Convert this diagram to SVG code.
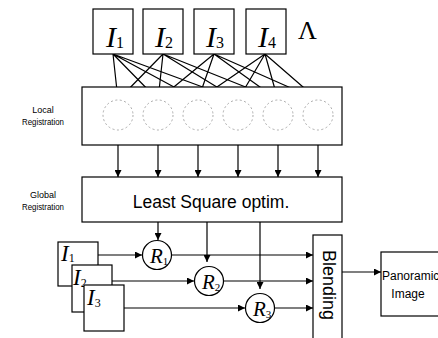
<svg xmlns="http://www.w3.org/2000/svg" width="438" height="338" viewBox="0 0 438 338">
<defs>
<marker id="ah" viewBox="0 0 10 10" refX="10" refY="5" markerWidth="7" markerHeight="7" orient="auto" markerUnits="userSpaceOnUse">
<path d="M0,0 L10,5 L0,10 z" fill="#000"/>
</marker>
<style>
.box{fill:#fff;stroke:#000;stroke-width:1.2}
.pc{fill:none;stroke:#aaa;stroke-width:1;stroke-dasharray:2 2.5}
.rc{fill:#fff;stroke:#000;stroke-width:1.2}
.ln{stroke:#000;stroke-width:1.2;fill:none}
.ar{stroke:#000;stroke-width:1.2;fill:none;marker-end:url(#ah)}
.it{font-family:"Liberation Serif",serif;font-style:italic;fill:#000}
.sub{font-family:"Liberation Serif",serif;font-style:normal;fill:#000}
.lbl{font-family:"Liberation Sans",Arial,sans-serif;font-size:9px;fill:#000;text-anchor:middle}
.sans{font-family:"Liberation Sans",Arial,sans-serif;fill:#000}
</style>
</defs>
<rect width="438" height="338" fill="#fff"/>

<g id="connectors">
<path class="ln" d="M113,54 L118,100 M113,54 L158,100 M113,54 L198,100 M113,54 L238,100"/>
<path class="ln" d="M163,54 L118,100 M163,54 L158,100 M163,54 L238,100 M163,54 L278,100"/>
<path class="ln" d="M214,54 L158,100 M214,54 L198,100 M214,54 L278,100 M214,54 L318,100"/>
<path class="ln" d="M265,54 L198,100 M265,54 L238,100 M265,54 L278,100 M265,54 L318,100"/>
<line class="ar" x1="118" y1="131" x2="118" y2="177"/>
<line class="ar" x1="158" y1="131" x2="158" y2="177"/>
<line class="ar" x1="198" y1="131" x2="198" y2="177"/>
<line class="ar" x1="238" y1="131" x2="238" y2="177"/>
<line class="ar" x1="278" y1="131" x2="278" y2="177"/>
<line class="ar" x1="318" y1="131" x2="318" y2="177"/>
<line class="ar" x1="158" y1="222" x2="158" y2="240"/>
<line class="ar" x1="207" y1="222" x2="207" y2="262"/>
<line class="ar" x1="260" y1="222" x2="260" y2="289"/>
<line class="ar" x1="98" y1="255" x2="142" y2="255"/>
<line class="ar" x1="112" y1="281" x2="194" y2="281"/>
<line class="ar" x1="124" y1="308" x2="245" y2="308"/>
<line class="ar" x1="172" y1="255" x2="313" y2="255"/>
<line class="ar" x1="224" y1="281" x2="313" y2="281"/>
<line class="ar" x1="275" y1="308" x2="313" y2="308"/>
<line class="ar" x1="342" y1="272" x2="381" y2="272"/>
</g>

<g id="img1"><rect class="box" x="93" y="9" width="40" height="45"/><text class="it" x="106" y="47" font-size="30">I<tspan class="sub" font-size="16" dy="1">1</tspan></text></g>
<g id="img2"><rect class="box" x="143" y="9" width="40" height="45"/><text class="it" x="155" y="47" font-size="30">I<tspan class="sub" font-size="16" dy="1">2</tspan></text></g>
<g id="img3"><rect class="box" x="194" y="9" width="40" height="45"/><text class="it" x="206" y="47" font-size="30">I<tspan class="sub" font-size="16" dy="1">3</tspan></text></g>
<g id="img4"><rect class="box" x="246" y="9" width="40" height="45"/><text class="it" x="258" y="47" font-size="30">I<tspan class="sub" font-size="16" dy="1">4</tspan></text></g>
<g id="lambda"><text x="298" y="39" font-family="Liberation Serif,serif" font-size="26" fill="#000">Λ</text></g>

<g id="local">
<rect class="box" x="82" y="87" width="260" height="58" fill="none"/>
<circle class="pc" cx="118" cy="115" r="15"/>
<circle class="pc" cx="158" cy="115" r="15"/>
<circle class="pc" cx="198" cy="115" r="15"/>
<circle class="pc" cx="238" cy="115" r="15"/>
<circle class="pc" cx="278" cy="115" r="15"/>
<circle class="pc" cx="318" cy="115" r="15"/>
</g>
<g id="local-label"><text class="lbl" x="43" y="113">Local</text><text class="lbl" x="43" y="125" textLength="42" lengthAdjust="spacingAndGlyphs">Registration</text></g>

<g id="global">
<rect class="box" x="82" y="177" width="260" height="45"/>
<text class="sans" x="211" y="208" font-size="17.5" text-anchor="middle">Least Square optim.</text>
</g>
<g id="global-label"><text class="lbl" x="43" y="198">Global</text><text class="lbl" x="43" y="210" textLength="42" lengthAdjust="spacingAndGlyphs">Registration</text></g>

<g id="in1"><rect class="box" x="58" y="242" width="40" height="44"/><text class="it" x="61" y="261" font-size="23">I<tspan class="sub" font-size="12" dy="1">1</tspan></text></g>
<g id="in2"><rect class="box" x="72" y="265" width="40" height="47"/><text class="it" x="73" y="285" font-size="23">I<tspan class="sub" font-size="12" dy="2">2</tspan></text></g>
<g id="in3"><rect class="box" x="84" y="285" width="40" height="46"/><text class="it" x="87" y="305" font-size="23">I<tspan class="sub" font-size="12" dy="2">3</tspan></text></g>

<g id="R1"><circle class="rc" cx="157" cy="255" r="14.5"/><text class="it" x="150" y="263" font-size="21">R<tspan class="sub" font-size="11" dy="2">1</tspan></text></g>
<g id="R2"><circle class="rc" cx="209" cy="281" r="14.5"/><text class="it" x="202" y="289" font-size="21">R<tspan class="sub" font-size="11" dy="2">2</tspan></text></g>
<g id="R3"><circle class="rc" cx="260" cy="308" r="14.5"/><text class="it" x="253" y="316" font-size="21">R<tspan class="sub" font-size="11" dy="2">3</tspan></text></g>

<g id="blending">
<rect class="box" x="313" y="235" width="29" height="110"/>
<text class="sans" font-size="18" text-anchor="middle" transform="translate(323,285) rotate(90)">Blending</text>
</g>

<g id="panoramic">
<rect class="box" x="381" y="252" width="70" height="64"/>
<text class="sans" x="382" y="280" font-size="12">Panoramic</text>
<text class="sans" x="408" y="298" font-size="12" text-anchor="middle">Image</text>
</g>
</svg>
